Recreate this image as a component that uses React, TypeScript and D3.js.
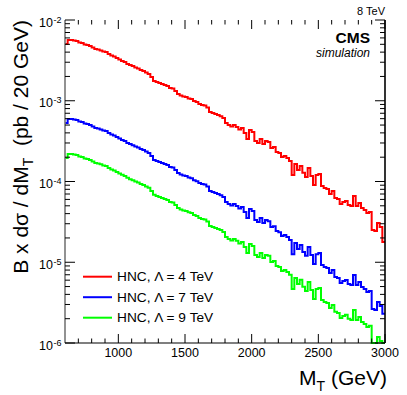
import React from 'react';
import * as d3 from 'd3';

// M_T bins: 20 GeV wide, from 600 to 3000 GeV (lower edges)
const binStart = 600;
const binWidth = 20;

const redLambda4 = [
  5.04e-3, 5.65e-3, 5.65e-3, 5.57e-3, 5.49e-3, 5.27e-3, 5.19e-3, 4.97e-3, 4.90e-3, 4.76e-3,
  4.56e-3, 4.37e-3, 4.31e-3, 4.19e-3, 4.07e-3, 4.02e-3, 3.79e-3, 3.63e-3, 3.53e-3, 3.38e-3,
  3.24e-3, 3.11e-3, 3.02e-3, 2.85e-3, 2.77e-3, 2.69e-3, 2.58e-3, 2.51e-3, 2.40e-3, 2.34e-3,
  2.24e-3, 2.15e-3, 1.97e-3, 1.76e-3, 1.71e-3, 1.66e-3, 1.61e-3, 1.57e-3, 1.52e-3, 1.44e-3,
  1.42e-3, 1.32e-3, 1.21e-3, 1.16e-3, 1.13e-3, 1.11e-3, 1.07e-3, 1.05e-3, 9.93e-4, 9.65e-4,
  9.11e-4, 8.86e-4, 8.74e-4, 8.25e-4, 7.26e-4, 7.05e-4, 6.85e-4, 6.66e-4, 6.45e-4, 6.11e-4,
  5.30e-4, 5.01e-4, 4.80e-4, 5.01e-4, 4.73e-4, 4.40e-4, 4.60e-4, 3.99e-4, 3.36e-4, 4.34e-4,
  4.10e-4, 3.17e-4, 3.00e-4, 3.36e-4, 2.91e-4, 3.17e-4, 3.08e-4, 2.60e-4, 2.67e-4, 2.32e-4,
  2.25e-4, 2.01e-4, 2.07e-4, 1.95e-4, 1.80e-4, 1.20e-4, 1.65e-4, 1.39e-4, 1.56e-4, 1.28e-4,
  1.14e-4, 1.47e-4, 1.17e-4, 9.05e-5, 1.20e-4, 1.24e-4, 8.80e-5, 8.31e-5, 8.07e-5, 7.00e-5,
  7.63e-5, 6.25e-5, 6.07e-5, 5.26e-5, 5.57e-5, 5.74e-5, 5.12e-5, 4.97e-5, 6.61e-5, 4.97e-5,
  5.41e-5, 4.70e-5, 4.44e-5, 4.07e-5, 4.19e-5, 2.51e-5, 2.44e-5, 3.06e-5, 2.73e-5, 1.78e-5,
];

const blueLambda7 = [
  5.29e-4, 5.93e-4, 5.93e-4, 5.85e-4, 5.76e-4, 5.53e-4, 5.45e-4, 5.22e-4, 5.15e-4, 5.00e-4,
  4.79e-4, 4.59e-4, 4.53e-4, 4.40e-4, 4.27e-4, 4.22e-4, 3.98e-4, 3.81e-4, 3.71e-4, 3.55e-4,
  3.40e-4, 3.27e-4, 3.17e-4, 2.99e-4, 2.91e-4, 2.82e-4, 2.71e-4, 2.64e-4, 2.52e-4, 2.46e-4,
  2.35e-4, 2.26e-4, 2.07e-4, 1.85e-4, 1.80e-4, 1.74e-4, 1.69e-4, 1.65e-4, 1.60e-4, 1.51e-4,
  1.49e-4, 1.39e-4, 1.27e-4, 1.22e-4, 1.19e-4, 1.17e-4, 1.12e-4, 1.10e-4, 1.04e-4, 1.01e-4,
  9.57e-5, 9.30e-5, 9.18e-5, 8.66e-5, 7.62e-5, 7.40e-5, 7.19e-5, 6.99e-5, 6.77e-5, 6.42e-5,
  5.57e-5, 5.26e-5, 5.04e-5, 5.26e-5, 4.97e-5, 4.62e-5, 4.83e-5, 4.19e-5, 3.53e-5, 4.56e-5,
  4.31e-5, 3.33e-5, 3.15e-5, 3.53e-5, 3.06e-5, 3.33e-5, 3.23e-5, 2.73e-5, 2.80e-5, 2.44e-5,
  2.36e-5, 2.11e-5, 2.17e-5, 2.05e-5, 1.89e-5, 1.26e-5, 1.73e-5, 1.46e-5, 1.64e-5, 1.34e-5,
  1.20e-5, 1.54e-5, 1.23e-5, 9.50e-6, 1.26e-5, 1.30e-5, 9.24e-6, 8.73e-6, 8.47e-6, 7.35e-6,
  8.01e-6, 6.56e-6, 6.37e-6, 5.52e-6, 5.85e-6, 6.03e-6, 5.38e-6, 5.22e-6, 6.94e-6, 5.22e-6,
  5.68e-6, 4.94e-6, 4.66e-6, 4.27e-6, 4.40e-6, 2.64e-6, 2.56e-6, 3.21e-6, 2.87e-6, 2.30e-6,
];

const greenLambda9 = [
  1.96e-4, 2.19e-4, 2.19e-4, 2.16e-4, 2.13e-4, 2.04e-4, 2.01e-4, 1.93e-4, 1.90e-4, 1.85e-4,
  1.77e-4, 1.70e-4, 1.67e-4, 1.63e-4, 1.58e-4, 1.56e-4, 1.47e-4, 1.41e-4, 1.37e-4, 1.31e-4,
  1.26e-4, 1.21e-4, 1.17e-4, 1.11e-4, 1.07e-4, 1.04e-4, 1.00e-4, 9.74e-5, 9.31e-5, 9.08e-5,
  8.69e-5, 8.34e-5, 7.64e-5, 6.83e-5, 6.63e-5, 6.44e-5, 6.25e-5, 6.09e-5, 5.90e-5, 5.59e-5,
  5.51e-5, 5.12e-5, 4.69e-5, 4.50e-5, 4.38e-5, 4.31e-5, 4.15e-5, 4.07e-5, 3.85e-5, 3.74e-5,
  3.53e-5, 3.44e-5, 3.39e-5, 3.20e-5, 2.82e-5, 2.74e-5, 2.66e-5, 2.58e-5, 2.50e-5, 2.37e-5,
  2.06e-5, 1.94e-5, 1.86e-5, 1.94e-5, 1.84e-5, 1.71e-5, 1.78e-5, 1.55e-5, 1.30e-5, 1.68e-5,
  1.59e-5, 1.23e-5, 1.16e-5, 1.30e-5, 1.13e-5, 1.23e-5, 1.20e-5, 1.01e-5, 1.04e-5, 9.00e-6,
  8.73e-6, 7.80e-6, 8.03e-6, 7.57e-6, 6.98e-6, 4.66e-6, 6.40e-6, 5.39e-6, 6.05e-6, 4.97e-6,
  4.42e-6, 5.70e-6, 4.54e-6, 3.51e-6, 4.66e-6, 4.81e-6, 3.41e-6, 3.22e-6, 3.13e-6, 2.72e-6,
  2.96e-6, 2.43e-6, 2.36e-6, 2.04e-6, 2.16e-6, 2.23e-6, 1.99e-6, 1.93e-6, 2.56e-6, 1.93e-6,
  2.10e-6, 1.82e-6, 1.72e-6, 1.58e-6, 1.63e-6, 9.7e-7, 9.5e-7, 1.19e-6, 1.06e-6, 6.9e-7,
];

const seriesLabels = ['4', '7', '9'];
const seriesColors = ['#ff0000', '#0000ff', '#00ff00'];
const xMajorTicks = [1000, 1500, 2000, 2500, 3000];
const yDecades = [-6, -5, -4, -3, -2];

const W = 407;
const H = 395;
const L = 65, R = 385, T = 20, B = 343;
const FONT = 'Liberation Sans, Arial, Helvetica, sans-serif';

export default function App() {
  const x = d3.scaleLinear().domain([600, 3000]).range([L, R]);
  const y = d3.scaleLog().domain([1e-6, 1e-2]).range([B, T]).clamp(true);

  const series = [redLambda4, blueLambda7, greenLambda9];
  const line = d3
    .line<[number, number]>()
    .x((d) => x(d[0]))
    .y((d) => y(Math.max(d[1], 1e-6)))
    .curve(d3.curveStepAfter);

  const toPts = (vals: number[]): [number, number][] => {
    const pts: [number, number][] = vals.map((v, i) => [binStart + i * binWidth, v]);
    pts.push([binStart + vals.length * binWidth, vals[vals.length - 1]]);
    return pts;
  };

  const xMinor = d3.range(700, 3000, 100).filter((v) => !xMajorTicks.includes(v));
  const yMinor: number[] = [];
  for (let e = -6; e < -2; e++) for (let k = 2; k <= 9; k++) yMinor.push(k * Math.pow(10, e));

  return (
    <svg width={W} height={H} style={{ position: 'absolute', left: 0, top: 0, background: '#fff' }} fontFamily={FONT}>
      <defs>
        <clipPath id="frame">
          <rect x={L} y={T - 2} width={R - L} height={B - T + 3} />
        </clipPath>
      </defs>
      <rect x={0} y={0} width={W} height={H} fill="#fff" />

      {/* histograms */}
      <g clipPath="url(#frame)">
        {series.map((vals, si) => (
          <path key={si} d={line(toPts(vals)) || ''} fill="none" stroke={seriesColors[si]} strokeWidth={2} strokeLinejoin="miter" />
        ))}
      </g>

      {/* frame */}
      <line x1={L} y1={T} x2={L} y2={B} stroke="#777" strokeWidth={1.6} />
      <line x1={L} y1={B} x2={R} y2={B} stroke="#000" strokeWidth={1.2} />
      <line x1={R} y1={T} x2={R} y2={B} stroke="#000" strokeWidth={1.6} />

      {/* x ticks */}
      {xMajorTicks.map((v) => (
        <g key={'xm' + v}>
          <line x1={x(v)} x2={x(v)} y1={B} y2={B - 9} stroke="#000" strokeWidth={1} />
          <line x1={x(v)} x2={x(v)} y1={T} y2={T + 9} stroke="#000" strokeWidth={1} />
          <text x={x(v)} y={357} textAnchor="middle" fontSize={12.5} fill="#000">{v}</text>
        </g>
      ))}
      {xMinor.map((v) => (
        <g key={'xn' + v}>
          <line x1={x(v)} x2={x(v)} y1={B} y2={B - 4.5} stroke="#000" strokeWidth={1} />
          <line x1={x(v)} x2={x(v)} y1={T} y2={T + 4.5} stroke="#000" strokeWidth={1} />
        </g>
      ))}

      {/* y ticks */}
      {yDecades.map((e) => {
        const yy = y(Math.pow(10, e));
        return (
          <g key={'ym' + e}>
            <line x1={L} x2={L + 10} y1={yy} y2={yy} stroke="#000" strokeWidth={1} />
            <line x1={R} x2={R - 10} y1={yy} y2={yy} stroke="#000" strokeWidth={1} />
            <text x={53} y={yy + 6.7} textAnchor="end" fontSize={12.5} fill="#000">10</text>
            <text x={53.5} y={yy + 2.5} textAnchor="start" fontSize={9} fill="#000">{e}</text>
          </g>
        );
      })}
      {yMinor.map((v, i) => (
        <g key={'yn' + i}>
          <line x1={L} x2={L + 5} y1={y(v)} y2={y(v)} stroke="#000" strokeWidth={1} />
          <line x1={R} x2={R - 5} y1={y(v)} y2={y(v)} stroke="#000" strokeWidth={1} />
        </g>
      ))}

      {/* axis titles */}
      <text x={387} y={385} textAnchor="end" fontSize={21} fill="#000">
        {'M'}
        <tspan dy={6} fontSize={14}>T</tspan>
        <tspan dy={-6}>{' (GeV)'}</tspan>
      </text>
      <text transform={`translate(28,${T}) rotate(-90)`} textAnchor="end" fontSize={21} fill="#000">
        {'B x d\u03c3 / dM'}
        <tspan dy={5} fontSize={14}>T</tspan>
        <tspan dy={-5}>{'\u00a0 (pb / 20 GeV)'}</tspan>
      </text>

      {/* annotations */}
      <text x={385} y={15} textAnchor="end" fontSize={11} fill="#000">8 TeV</text>
      <text x={370} y={43} textAnchor="end" fontSize={15.5} fontWeight="bold" fill="#000">CMS</text>
      <text x={370} y={57} textAnchor="end" fontSize={12} fontStyle="italic" fill="#000">simulation</text>

      {/* legend */}
      {seriesLabels.map((lab, i) => {
        const ly = 276.7 + i * 20.5;
        return (
          <g key={'lg' + i}>
            <line x1={83} x2={112} y1={ly} y2={ly} stroke={seriesColors[i]} strokeWidth={2} />
            <text x={117} y={ly + 4.5} fontSize={13.7} fill="#000">{`HNC, \u039b = ${lab} TeV`}</text>
          </g>
        );
      })}
    </svg>
  );
}
